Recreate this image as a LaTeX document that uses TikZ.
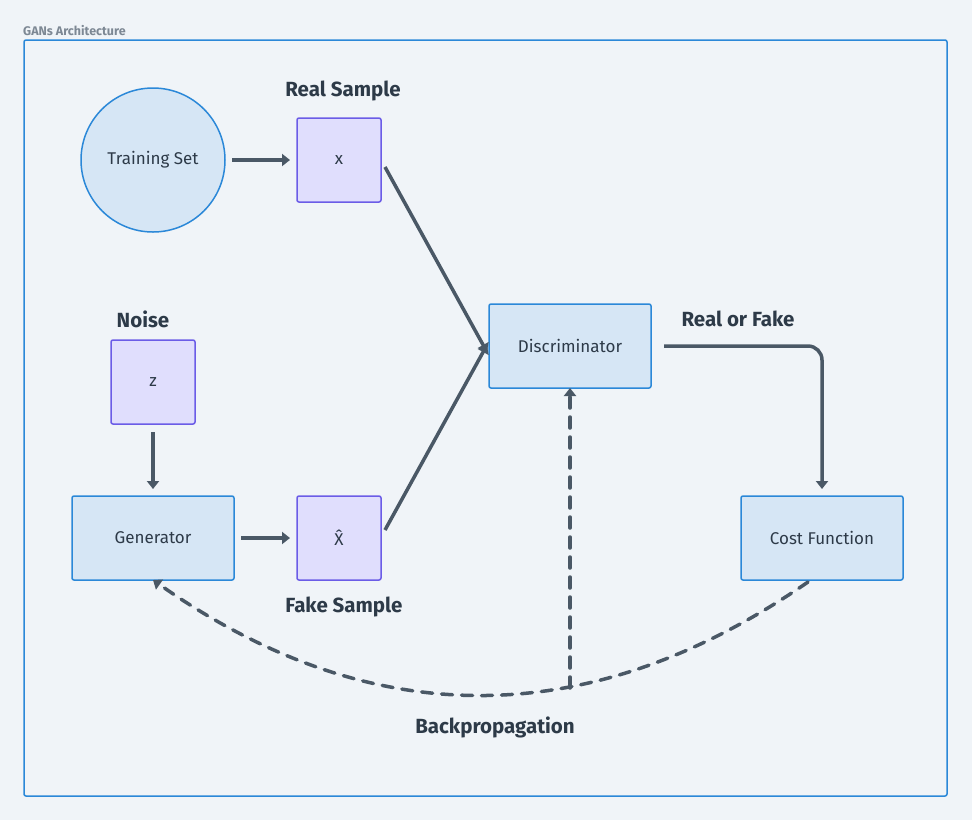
\documentclass[tikz,border=0pt]{standalone}
\usepackage{fontspec}
\setmainfont{Fira Sans}
\usetikzlibrary{arrows.meta}
\definecolor{bgc}{HTML}{F0F4F8}
\definecolor{frameblue}{HTML}{2B88D8}
\definecolor{boxfill}{HTML}{D6E6F5}
\definecolor{purplefill}{HTML}{E0DEFD}
\definecolor{purpleline}{HTML}{6B5CE7}
\definecolor{linec}{HTML}{4A5866}
\definecolor{textc}{HTML}{2D3A48}
\definecolor{titlec}{HTML}{7D8894}
\tikzset{
  bluebox/.style={draw=frameblue, fill=boxfill, line width=1.5pt, rounded corners=2pt, minimum width=162pt, minimum height=84pt, font=\fontsize{17}{19}\selectfont, text=textc},
  purplebox/.style={draw=purpleline, fill=purplefill, line width=1.5pt, rounded corners=2pt, minimum width=84pt, minimum height=84pt, font=\fontsize{17}{19}\selectfont, text=textc},
  lbl/.style={font=\bfseries\fontsize{20.5}{22}\selectfont, text=textc},
  conn/.style={draw=linec, line width=3.5pt, -{Triangle[width=12pt,length=8pt]}},
  dconn/.style={conn, dash pattern=on 11pt off 9pt, line cap=round},
}
\begin{document}
\begin{tikzpicture}[x=1pt,y=-1pt]
\useasboundingbox (0,0) rectangle (972,820);
\fill[bgc] (0,0) rectangle (972,820);
\draw[frameblue, line width=1.5pt, rounded corners=2pt] (24,40) rectangle (947,796);
\node[anchor=west, text=titlec, font=\bfseries\fontsize{12.5}{13}\selectfont, inner sep=0] (title) at (23,31) {GANs Architecture};

\node[circle, draw=frameblue, fill=boxfill, line width=1.5pt, minimum size=144pt, font=\fontsize{17}{19}\selectfont, text=textc] (train) at (153,160) {Training Set};
\node[purplebox] (x) at (339,160) {x};
\node[lbl] (reallbl) at (343,91) {Real Sample};
\node[lbl] (noiselbl) at (143,319) {Noise};
\node[purplebox] (z) at (153,382) {z};
\node[bluebox] (gen) at (153,538) {Generator};
\node[purplebox] (xhat) at (339,538) {\^{X}};
\node[lbl] (fakelbl) at (344,607) {Fake Sample};
\node[bluebox] (disc) at (570,346) {Discriminator};
\node[lbl] (rflbl) at (738,319) {Real or Fake};
\node[bluebox] (cost) at (822,538) {Cost Function};
\node[lbl] (bplbl) at (495,727) {Backpropagation};

\coordinate (a1s) at (232,160);
\coordinate (a1e) at (290,160);
\draw[conn] (a1s) -- (a1e);
\coordinate (zs) at (153,432);
\coordinate (ze) at (153,489);
\draw[conn] (zs) -- (ze);
\coordinate (gs) at (241,538);
\coordinate (ge) at (290,538);
\draw[conn] (gs) -- (ge);
\coordinate (xs) at (385,167);
\coordinate (xe) at (487,352);
\draw[conn] (xs) -- (xe);
\coordinate (hs) at (385,530);
\coordinate (he) at (487,345);
\draw[conn] (hs) -- (he);
\coordinate (ds) at (664,346);
\coordinate (dc) at (822,346);
\coordinate (de) at (822,489);
\draw[conn, rounded corners=14pt] (ds) -- (dc) -- (de);
\coordinate (cs) at (808,582);
\coordinate (ce) at (153,580);
\draw[dconn] (cs) .. controls (589,733) and (371,733) .. (ce);
\coordinate (vs) at (570,688);
\coordinate (ve) at (570,388);
\draw[dconn] (vs) -- (ve);
\end{tikzpicture}
\end{document}
